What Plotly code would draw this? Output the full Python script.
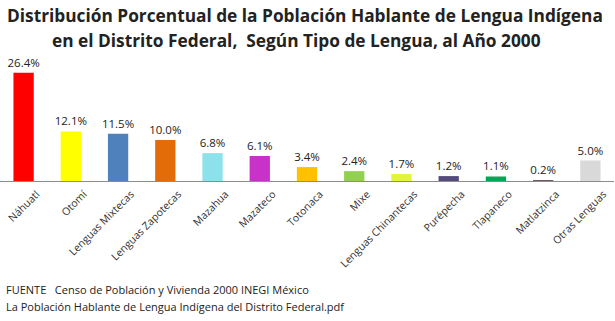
import plotly.graph_objects as go

categories = ["Náhuatl", "Otomí", "Lenguas Mixtecas", "Lenguas Zapotecas", "Mazahua",
              "Mazateco", "Totonaca", "Mixe", "Lenguas Chinantecas", "Purépecha",
              "Tlapaneco", "Matlatzinca", "Otras Lenguas"]
values = [26.4, 12.1, 11.5, 10.0, 6.8, 6.1, 3.4, 2.4, 1.7, 1.2, 1.1, 0.2, 5.0]
colors = ["#FF0000", "#FFFF00", "#4F81BD", "#E36C09", "#8BE2EA", "#C832C8", "#FFC000",
          "#92D050", "#E2F53C", "#554A7C", "#00A856", "#6E5A5A", "#D9D9D9"]

title_lines = ["Distribución Porcentual de la Población Hablante de Lengua Indígena",
               "en el Distrito Federal,  Según Tipo de Lengua, al Año 2000"]
source_lines = ["FUENTE   Censo de Población y Vivienda 2000 INEGI México",
                "La Población Hablante de Lengua Indígena del Distrito Federal.pdf"]

fig = go.Figure(go.Bar(
    x=categories, y=values, marker_color=colors, marker_line_width=0, width=0.43,
    text=[f"{v:.1f}%" for v in values], textposition="outside", cliponaxis=False,
    constraintext="none",
    textfont=dict(family="Open Sans, sans-serif", size=11.5, color="#222222"),
))

title_font = dict(family="Open Sans, sans-serif", size=17.3, color="#222222", weight="bold")
src_font = dict(family="Open Sans, sans-serif", size=11, color="#222222")
annotations = [
    dict(text=title_lines[0], xref="paper", yref="paper", x=0.5, y=1, xanchor="center",
         yanchor="middle", yshift=43, xshift=-2, showarrow=False, font=title_font),
    dict(text=title_lines[1], xref="paper", yref="paper", x=0.5, y=1, xanchor="center",
         yanchor="middle", yshift=18, xshift=-11, showarrow=False, font=title_font),
    dict(text=source_lines[0], xref="paper", yref="paper", x=0, y=0, xanchor="left",
         yanchor="middle", yshift=-108, xshift=4, showarrow=False, font=src_font),
    dict(text=source_lines[1], xref="paper", yref="paper", x=0, y=0, xanchor="left",
         yanchor="middle", yshift=-125, xshift=4, showarrow=False, font=src_font),
]

fig.update_layout(
    width=615, height=321, margin=dict(l=0, r=1, t=58, b=140, autoexpand=False),
    paper_bgcolor="white", plot_bgcolor="white", showlegend=False,
    annotations=annotations,
)
fig.update_xaxes(showline=True, linecolor="#8C8C8C", linewidth=1, tickangle=-45, ticks="",
                 tickfont=dict(family="Open Sans, sans-serif", size=10.5, color="#333333"),
                 ticklabelshift=13, ticklabelstandoff=2,
                 showgrid=False, range=[-0.5, 12.5], automargin=False)
fig.update_yaxes(visible=False, range=[0, 30], showgrid=False)

fig.write_html("out.html")
